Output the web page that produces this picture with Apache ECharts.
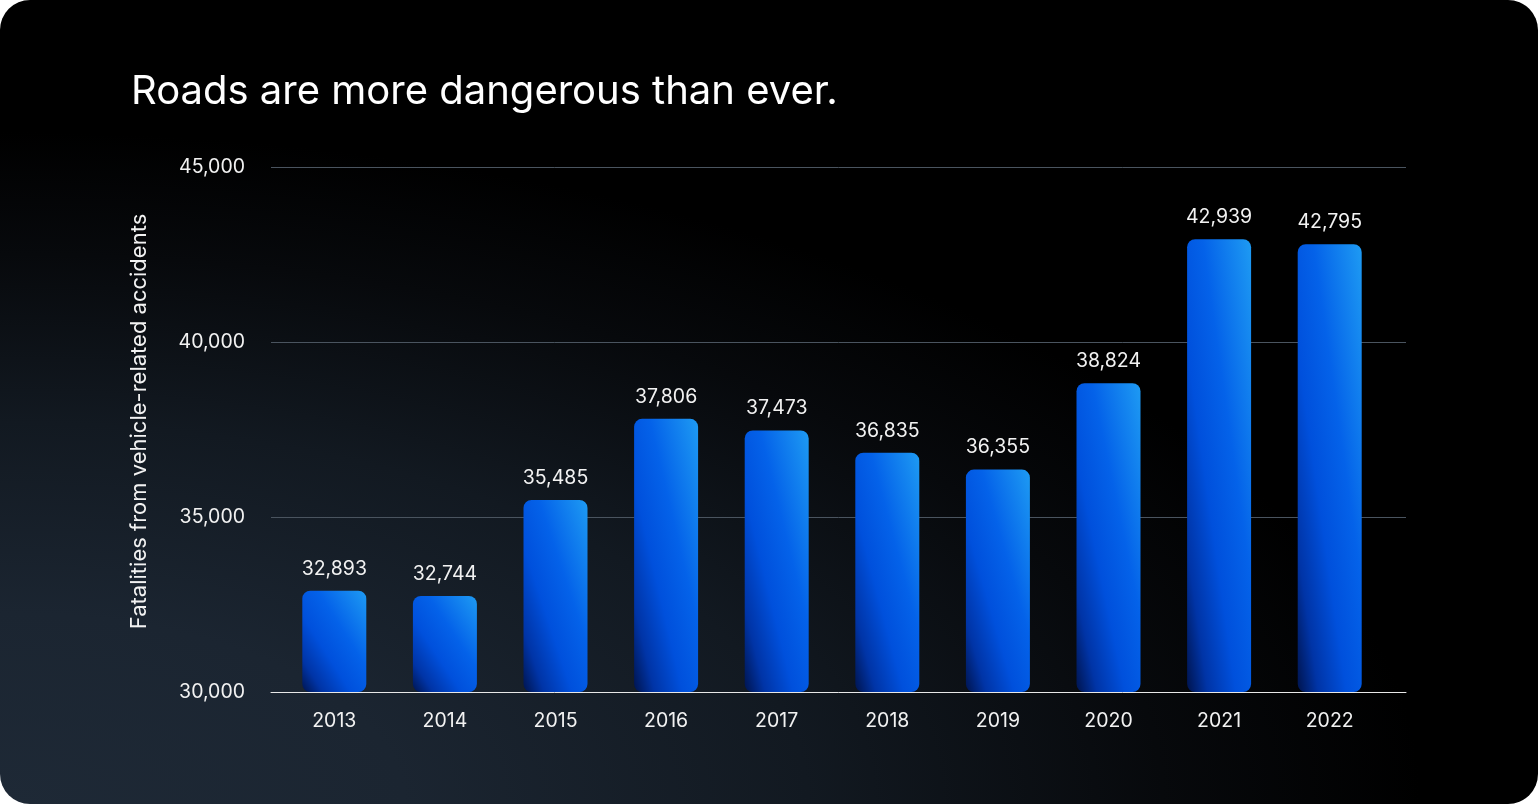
<!DOCTYPE html>
<html>
<head>
<meta charset="utf-8">
<script src="https://cdn.jsdelivr.net/npm/echarts@6/dist/echarts.min.js"></script>
<style>
  html, body { margin: 0; padding: 0; background: #ffffff; }
  #card {
    width: 1538px; height: 804px; border-radius: 30px; overflow: hidden;
    background: radial-gradient(ellipse 105% 95% at 0% 100%, #1e2936 0%, #1b2531 25%, #121921 50%, #07090c 72%, #000000 88%);
  }
  #chart { width: 1538px; height: 804px; }
</style>
</head>
<body>
<div id="card"><div id="chart"></div></div>
<script>
const titleText = 'Roads are more dangerous than ever.';
const yAxisName = 'Fatalities from vehicle-related accidents';
const years = ['2013', '2014', '2015', '2016', '2017', '2018', '2019', '2020', '2021', '2022'];
const fatalities = [32893, 32744, 35485, 37806, 37473, 36835, 36355, 38824, 42939, 42795];
const yMin = 30000, yMax = 45000, yStep = 5000;

const FONT = 'Inter, "Noto Sans", sans-serif';
const gridTop = 167, gridBottom = 112, plotH = 804 - gridTop - gridBottom;
const barW = 64;

// gradient like CSS "to bottom left": top-right brightest, bottom-left darkest
function barGradient(v) {
  const h = Math.max(1, (v - yMin) / (yMax - yMin) * plotH);
  const w = barW, D2 = w * w + h * h;
  const a = h * h / D2, b = w * w / D2;
  return {
    type: 'linear', x: 0.5 + a, y: 0.5 - b, x2: 0.5 - a, y2: 0.5 + b,
    colorStops: [
      { offset: 0, color: '#1e9bf3' },
      { offset: 0.38, color: '#0462e9' },
      { offset: 0.62, color: '#0050dc' },
      { offset: 0.84, color: '#0034a6' },
      { offset: 1, color: '#00144e' }
    ]
  };
}

const chart = echarts.init(document.getElementById('chart'), null, { renderer: 'canvas' });
chart.setOption({
  backgroundColor: 'transparent',
  animation: false,
  title: {
    text: titleText, left: 126, top: 67,
    textStyle: { color: '#ffffff', fontFamily: FONT, fontSize: 40, fontWeight: 400 }
  },
  grid: [
    { left: 279, right: 153, top: gridTop, bottom: gridBottom },
    { left: 271, right: 132, top: gridTop, bottom: gridBottom }
  ],
  xAxis: [
    {
      type: 'category', gridIndex: 0, data: years,
      axisLine: { show: false }, axisTick: { show: false },
      axisLabel: { color: '#f2f2f2', fontFamily: FONT, fontSize: 19.5, margin: 19 }
    },
    {
      type: 'value', gridIndex: 1, min: 0, max: 1,
      axisLine: { show: true, onZero: false, lineStyle: { color: '#e8e8e8', width: 1 } },
      axisTick: { show: false }, axisLabel: { show: false }, splitLine: { show: false }
    }
  ],
  yAxis: [
    { type: 'value', gridIndex: 0, min: yMin, max: yMax, interval: yStep, show: false },
    {
      type: 'value', gridIndex: 1, min: yMin, max: yMax, interval: yStep,
      name: yAxisName, nameLocation: 'middle', nameGap: 121, nameRotate: 90,
      nameTextStyle: { color: '#f2f2f2', fontFamily: FONT, fontSize: 22, padding: [0, 0, 0, 16] },
      axisLine: { show: false }, axisTick: { show: false },
      axisLabel: {
        color: '#f2f2f2', fontFamily: FONT, fontSize: 19.5, margin: 26,
        formatter: v => v.toLocaleString('en-US')
      },
      splitLine: { show: true, lineStyle: { color: '#4a545f', width: 1 } }
    }
  ],
  series: [{
    type: 'bar', xAxisIndex: 0, yAxisIndex: 0, barWidth: barW,
    data: fatalities.map(v => ({ value: v, itemStyle: { color: barGradient(v) } })),
    itemStyle: { borderRadius: 8 },
    label: {
      show: true, position: 'top', distance: 12,
      color: '#f2f2f2', fontFamily: FONT, fontSize: 19.5,
      formatter: p => p.value.toLocaleString('en-US')
    }
  }]
});
</script>
</body>
</html>
